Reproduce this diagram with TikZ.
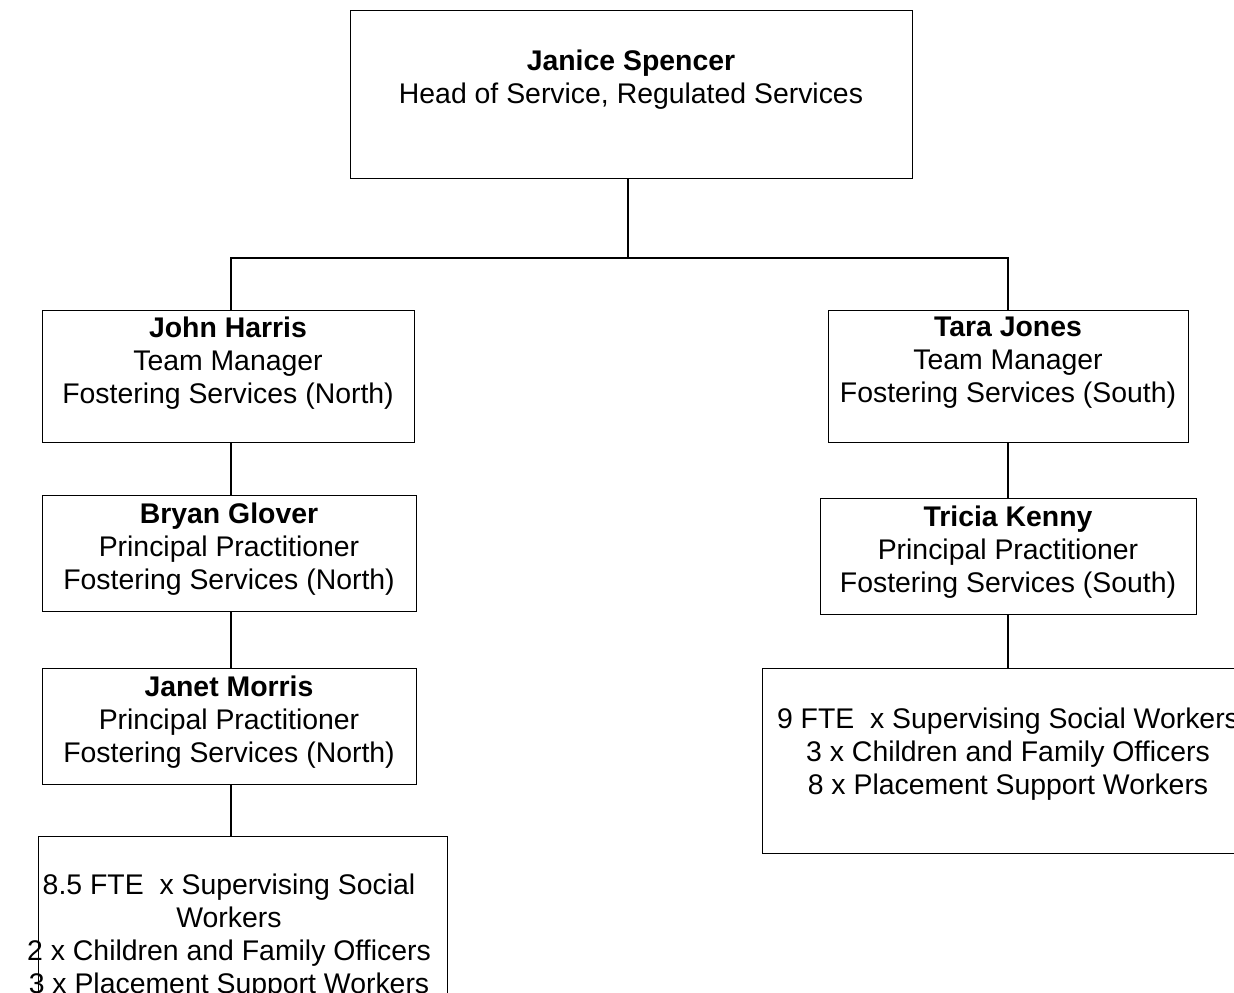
\documentclass[tikz,border=0pt]{standalone}
\usepackage{fontspec}
\setmainfont{Liberation Sans}
\begin{document}
\begin{tikzpicture}[x=0.75pt,y=-0.75pt,
    box/.style={draw,line width=1pt,anchor=north west,inner sep=0pt},
    info/.style={anchor=north,align=center,inner sep=0pt,
        font=\fontsize{21.3}{24.7}\selectfont}]
        \useasboundingbox (0,0) rectangle (1234,992);
        \clip (0,0) rectangle (1234,992);
        %% boxes
        \node[box,minimum width=421.5pt,minimum height=126pt] (head) at (350,10) {};
        \node[box,minimum width=279pt,minimum height=99pt] (john) at (42,310) {};
        \node[box,minimum width=270pt,minimum height=99pt] (tara) at (828,310) {};
        \node[box,minimum width=280.5pt,minimum height=87pt] (bryan) at (42,495) {};
        \node[box,minimum width=280.5pt,minimum height=87pt] (janet) at (42,668) {};
        \node[box,minimum width=306.75pt,minimum height=150pt] (teamN) at (38,836) {};
        \node[box,minimum width=282pt,minimum height=87pt] (tricia) at (820,498) {};
        \node[box,minimum width=360pt,minimum height=138.75pt] (teamS) at (762,668) {};
        %% texts
        \node[info] (headtxt) at (631,50) {\textbf{Janice Spencer}\\Head of Service, Regulated Services};
        \node[info] (johntxt) at (228,317) {\textbf{John Harris}\\Team Manager\\Fostering Services (North)};
        \node[info] (taratxt) at (1008,317) {\textbf{Tara Jones}\\Team Manager\\Fostering Services (South)};
        \node[info] (bryantxt) at (229,503) {\textbf{Bryan Glover}\\Principal Practitioner\\Fostering Services (North)};
        \node[info] (janettxt) at (229,676) {\textbf{Janet Morris}\\Principal Practitioner\\Fostering Services (North)};
        \node[info] (triciatxt) at (1008,506) {\textbf{Tricia Kenny}\\Principal Practitioner\\Fostering Services (South)};
        \node[info] (teamNtxt) at (229,874) {8.5 FTE\ \ x Supervising Social\\Workers\\2 x Children and Family Officers\\3 x Placement Support Workers};
        \node[info] (teamStxt) at (1008,708) {9 FTE\ \ x Supervising Social Workers\\3 x Children and Family Officers\\8 x Placement Support Workers};
        %% connect
        \coordinate (bar) at (628,258);
        \coordinate (left) at (231,258);
        \coordinate (right) at (1008,258);
        \draw[line width=1pt] (head.south -| bar) -- (bar);
        \draw[line width=1pt] (left |- john.north) -- (left) -- (right) -- (right |- tara.north);
        \draw[line width=1pt] (left |- john.south) -- (left |- bryan.north);
        \draw[line width=1pt] (left |- bryan.south) -- (left |- janet.north);
        \draw[line width=1pt] (left |- janet.south) -- (left |- teamN.north);
        \draw[line width=1pt] (right |- tara.south) -- (right |- tricia.north);
        \draw[line width=1pt] (right |- tricia.south) -- (right |- teamS.north);
    \end{tikzpicture}
\end{document}
